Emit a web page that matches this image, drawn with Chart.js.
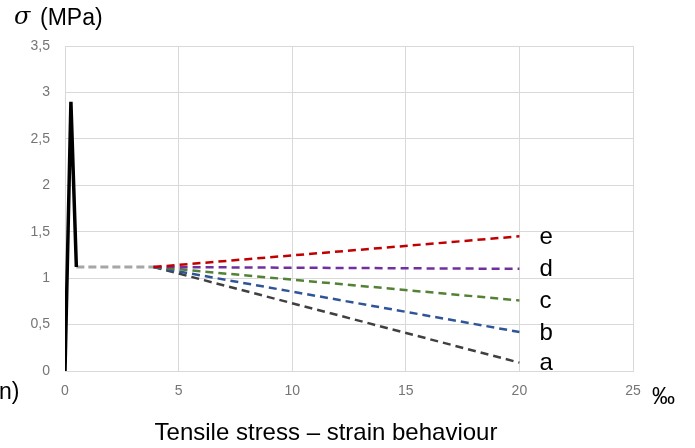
<!DOCTYPE html>
<html>
<head>
<meta charset="utf-8">
<script src="https://cdn.jsdelivr.net/npm/chart.js@4"></script>
<style>
  html, body { margin: 0; padding: 0; background: #fff; }
  #wrap { width: 695px; height: 448px; position: relative; }
</style>
</head>
<body>
<div id="wrap"><canvas id="chart" width="695" height="448"></canvas></div>
<script>
// elastic peak then softening (solid black)
const peakX = [0, 0.26, 0.5];
const peakY = [0, 2.9, 1.12];

// residual plateau (grey dashed)
const plateauX = [0.5, 3.9];
const plateauY = [1.12, 1.12];

// post-cracking branches a..e
const branchLabels = ["a", "b", "c", "d", "e"];
const branchX = [3.9, 20];
const branchStart = 1.12;
const branchEnd = [0.09, 0.42, 0.76, 1.1, 1.45];
const branchColors = ["#404040", "#2f5597", "#548235", "#7030a0", "#c00000"];

const xTicks = [0, 5, 10, 15, 20, 25];
const yTicks = [0, 0.5, 1, 1.5, 2, 2.5, 3, 3.5];

const toPts = (xs, ys) => xs.map((x, i) => ({ x, y: ys[i] }));

const datasets = [
  {
    label: "peak",
    data: toPts(peakX, peakY),
    borderColor: "#000",
    borderWidth: 3.5,
    pointRadius: 0,
    order: 0,
  },
  {
    label: "plateau",
    data: toPts(plateauX, plateauY),
    borderColor: "#a6a6a6",
    borderWidth: 3,
    borderDash: [8, 4],
    pointRadius: 0,
    order: 6,
  },
];

branchLabels.forEach((name, i) => {
  datasets.push({
    label: name,
    data: toPts(branchX, [branchStart, branchEnd[i]]),
    borderColor: branchColors[i],
    borderWidth: 2.5,
    borderDash: [8, 5],
    pointRadius: 0,
    order: 5 - i,
  });
});

const fmt = (v) => String(v).replace(".", ",");
const SANS = "'Liberation Sans', Arial, sans-serif";

const textPlugin = {
  id: "texts",
  afterDraw(chart) {
    const ctx = chart.ctx;
    const xs = chart.scales.x;
    const ys = chart.scales.y;
    ctx.save();
    ctx.fillStyle = "#000";
    ctx.textBaseline = "middle";

    // branch letters
    ctx.font = "24px " + SANS;
    ctx.textAlign = "left";
    const lx = xs.getPixelForValue(20) + 20;
    branchLabels.forEach((name, i) => {
      ctx.fillText(name, lx, ys.getPixelForValue(branchEnd[i]) + 1);
    });

    // axis titles
    ctx.font = "italic 24px 'DejaVu Serif', serif";
    ctx.fillText("σ", 14, 18);
    ctx.font = "23px " + SANS;
    ctx.fillText("(MPa)", 40, 19);
    ctx.fillText("‰", 652, 398);
    ctx.fillText("n)", -1, 393);

    ctx.font = "24px " + SANS;
    ctx.textAlign = "center";
    ctx.fillText("Tensile stress – strain behaviour", 326, 433);
    ctx.restore();
  },
};

new Chart(document.getElementById("chart"), {
  type: "line",
  data: { datasets },
  plugins: [textPlugin],
  options: {
    responsive: false,
    animation: false,
    layout: { padding: { top: 46, right: 62, left: 0, bottom: 0 } },
    plugins: { legend: { display: false }, tooltip: { enabled: false } },
    scales: {
      x: {
        type: "linear",
        min: 0,
        max: 25,
        afterBuildTicks: (s) => { s.ticks = xTicks.map((v) => ({ value: v })); },
        afterFit: (s) => { s.height = 77; },
        grid: { color: "#d9d9d9", lineWidth: 1, drawTicks: false },
        border: { color: "#d9d9d9" },
        ticks: {
          padding: 12,
          color: "#757575",
          font: { family: SANS, size: 14 },
          callback: fmt,
        },
      },
      y: {
        type: "linear",
        min: 0,
        max: 3.5,
        afterBuildTicks: (s) => { s.ticks = yTicks.map((v) => ({ value: v })); },
        afterFit: (s) => { s.width = 65; },
        grid: { color: "#d9d9d9", lineWidth: 1, drawTicks: false },
        border: { display: false },
        ticks: {
          padding: 15,
          color: "#757575",
          font: { family: SANS, size: 14 },
          callback: fmt,
        },
      },
    },
  },
});
</script>
</body>
</html>
